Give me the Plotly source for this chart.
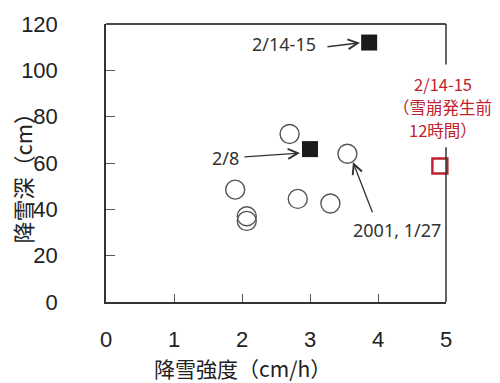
import plotly.graph_objects as go

# Snowfall intensity (cm/h) vs. snowfall depth (cm)
past_intensity = [2.70, 3.55, 1.90, 2.82, 3.30, 2.07, 2.07]
past_depth = [72.5, 64.0, 48.5, 44.5, 42.5, 37.0, 35.0]

event_labels = ["2/8", "2/14-15"]
event_intensity = [3.00, 3.87]
event_depth = [66.0, 112.0]

pre_avalanche_intensity = [4.91]
pre_avalanche_depth = [58.7]

x_ticks = [0, 1, 2, 3, 4, 5]
y_ticks = [0, 20, 40, 60, 80, 100, 120]

RED = "#C0212E"
INK = "#333333"
CJK = "Noto Sans CJK JP"
LATIN = "Noto Sans"

fig = go.Figure()

fig.add_trace(go.Scatter(
    x=past_intensity, y=past_depth, mode="markers",
    marker=dict(symbol="circle-open", size=19, color="#555555",
                line=dict(width=1.4, color="#555555")),
    showlegend=False, cliponaxis=False,
))
fig.add_trace(go.Scatter(
    x=event_intensity, y=event_depth, mode="markers",
    marker=dict(symbol="square", size=16, color="#1a1a1a"),
    showlegend=False, cliponaxis=False,
))
fig.add_trace(go.Scatter(
    x=pre_avalanche_intensity, y=pre_avalanche_depth, mode="markers",
    marker=dict(symbol="square-open", size=15, color=RED,
                line=dict(width=2.4, color=RED)),
    showlegend=False, cliponaxis=False,
))

annotations = []

# callout texts
annotations.append(dict(x=2.618, y=111.3, xref="x", yref="y", text="2/14-15",
                        showarrow=False, font=dict(family=LATIN, size=18, color=INK)))
annotations.append(dict(x=1.75, y=62.1, xref="x", yref="y", text="2/8",
                        showarrow=False, font=dict(family=LATIN, size=18, color=INK)))
annotations.append(dict(x=4.28, y=30.9, xref="x", yref="y", text="2001, 1/27",
                        showarrow=False, font=dict(family=LATIN, size=18, color=INK)))

# callout arrows (tail -> head)
arrows = [
    ((3.235, 110.1), (3.735, 111.9)),
    ((2.015, 62.6), (2.853, 64.3)),
    ((3.926, 38.1), (3.632, 60.4)),
]
for (tx, ty), (hx, hy) in arrows:
    annotations.append(dict(
        x=hx, y=hy, ax=tx, ay=ty, xref="x", yref="y", axref="x", ayref="y",
        text="", showarrow=True, arrowhead=5, arrowsize=1.5, arrowwidth=1.3,
        arrowcolor=INK, standoff=0, startstandoff=0,
    ))

# red note for the pre-avalanche point, one line per annotation
note_lines = ["2/14-15", "（雪崩発生前", "12時間）"]
note_depths = [94.0, 84.2, 74.3]
for line, yy in zip(note_lines, note_depths):
    annotations.append(dict(
        x=4.95, y=yy, xref="x", yref="y", text=line,
        showarrow=False, xanchor="center", yanchor="middle", borderpad=0,
        font=dict(family=CJK, size=16.5, color=RED),
    ))

# axis titles
annotations.append(dict(
    x=-0.247, y=0.466, xref="paper", yref="paper", text="降雪深（cm）",
    textangle=-90, showarrow=False, xanchor="center", yanchor="middle",
    font=dict(family=CJK, size=22, color="#222222"),
))
annotations.append(dict(
    x=0.40, y=-0.239, xref="paper", yref="paper", text="降雪強度（cm/h）",
    showarrow=False, xanchor="center", yanchor="middle",
    font=dict(family=CJK, size=21, color="#222222"),
))

# top border and the broken right border
shapes = [
    dict(type="line", xref="paper", yref="paper", x0=0, x1=1, y0=1, y1=1,
         line=dict(color="#111111", width=1.5)),
    dict(type="line", xref="paper", yref="paper", x0=1, x1=1, y0=0, y1=0.557,
         line=dict(color="#333333", width=1.5)),
    dict(type="line", xref="paper", yref="paper", x0=1, x1=1, y0=0.854, y1=1,
         line=dict(color="#333333", width=1.5)),
]

fig.update_layout(
    width=500, height=383,
    margin=dict(l=106, r=54, t=22, b=81),
    paper_bgcolor="white", plot_bgcolor="white",
    annotations=annotations, shapes=shapes,
    font=dict(family="Liberation Sans, Arial", color="#222222"),
)
fig.update_xaxes(
    range=[0, 5], tickvals=x_ticks, ticktext=[str(v) for v in x_ticks],
    ticks="inside", ticklen=8, tickwidth=1.3, tickcolor="#555555",
    showline=True, linecolor="#333333", linewidth=1.5,
    showgrid=False, zeroline=False,
    tickfont=dict(family="Liberation Sans, Arial", size=22, color="#222222"),
    ticklabelstandoff=17,
)
fig.update_yaxes(
    range=[0, 120], tickvals=y_ticks, ticktext=[str(v) for v in y_ticks],
    ticks="inside", ticklen=9, tickwidth=1.3, tickcolor="#555555",
    showline=True, linecolor="#333333", linewidth=1.5,
    showgrid=False, zeroline=False,
    tickfont=dict(family="Liberation Sans, Arial", size=22, color="#222222"),
    ticklabelstandoff=42,
)

fig.write_html("out.html")
